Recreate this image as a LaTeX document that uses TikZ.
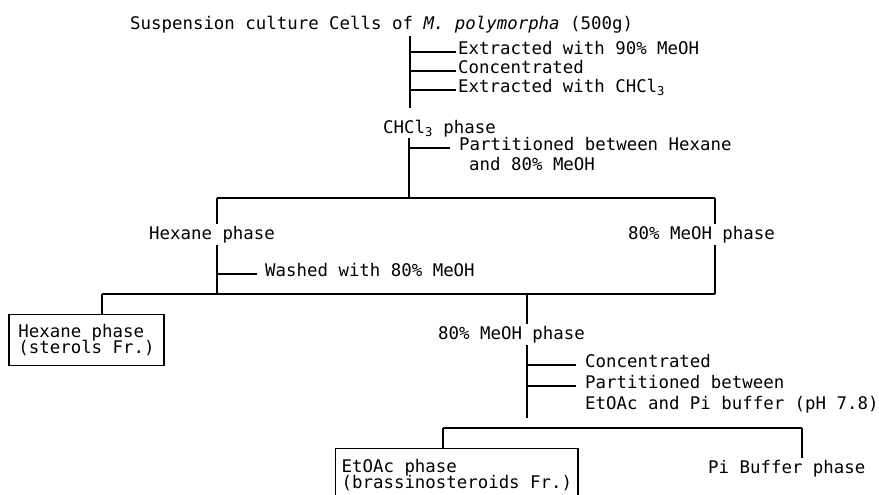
\documentclass[tikz,border=0pt]{standalone}
\usepackage{fontspec}
\setmonofont{DejaVu Sans Mono}
\usetikzlibrary{positioning}
\lineskiplimit=-20pt

\tikzset{
  txt/.style={font=\ttfamily\fontsize{17.4}{15.5}\selectfont, inner sep=2pt},
  ln/.style={line width=1.1pt},
  lnb/.style={line width=1.8pt},
  fr/.style={txt, draw, line width=1.3pt, align=left},
}

\begin{document}
\begin{tikzpicture}[x=1pt,y=-1pt]

    % Рамка рисунка
    \useasboundingbox (0,0) rectangle (879,495);
    \clip (0,0) rectangle (879,495);

    % Исходный материал и первые операции
    \node[txt, anchor=base west] (title) at (128,30) {Suspension culture Cells of \textit{M. polymorpha} (500g)};
    \coordinate (t1) at (410,108);
    \node[txt, anchor=mid west] (ext1)  at (456,52) {Extracted with 90\% MeOH};
    \node[txt, anchor=mid west] (conc1) at (456,71) {Concentrated};
    \node[txt, anchor=mid west] (ext2)  at (456,90) {Extracted with CHCl\textsubscript{3}};
    \draw[ln] (title.south -| t1) -- (t1);
    \draw[ln]  (ext1.mid west -| t1)  -- (ext1.mid west);
    \draw[ln]  (conc1.mid west -| t1) -- (conc1.mid west);
    \draw[lnb] (ext2.mid west -| t1)  -- (ext2.mid west);

    % Фаза CHCl3
    \node[txt, anchor=base west, inner sep=1pt] (chcl) at (382,133) {CHCl\textsubscript{3} phase};
    \coordinate (s1) at (409,198);
    \node[txt, anchor=mid west]  (part1)  at (457,148) {Partitioned between Hexane};
    \node[txt, anchor=base west] (part1b) at (467,170) {and 80\% MeOH};
    \draw[ln] (chcl.south -| s1) -- (s1);
    \draw[ln] (part1.mid west -| s1) -- ([xshift=-7pt]part1.mid west);

    % Разделение: гексан / 80% MeOH
    \coordinate (s1l) at (217,198);
    \coordinate (s1r) at (715,198);
    \coordinate (s2l) at (102,294);
    \coordinate (s2r) at (715,294);
    \draw[ln] (s1l) -- (s1r);
    \node[txt, anchor=base west] (hex)   at (147,239) {Hexane phase};
    \node[txt, anchor=base west] (meoh1) at (626,239) {80\% MeOH phase};
    \draw[ln] (s1l) -- (s1l |- hex.north);
    \draw[ln] (s1l |- hex.south) -- (s2l -| s1l);
    \draw[ln] (s1r) -- (s1r |- meoh1.north);
    \draw[ln] (s1r |- meoh1.south) -- (s2r);
    \node[txt, anchor=mid west] (wash) at (263,274) {Washed with 80\% MeOH};
    \draw[ln] (wash.mid west -| s1l) -- ([xshift=-6pt]wash.mid west);
    \draw[ln] (s2l) -- (s2r);

    % Гексановая фракция (стерины)
    \node[fr, minimum width=155, minimum height=51] (hexbox) at (86.5,340) {Hexane phase\\(sterols Fr.)};
    \draw[ln] (s2l) -- (s2l |- hexbox.north);

    % Объединённая фаза 80% MeOH
    \coordinate (t3) at (527,418);
    \node[txt, anchor=base west] (meoh2) at (436,339) {80\% MeOH phase};
    \draw[ln] (s2l -| t3) -- (t3 |- meoh2.north);
    \draw[ln] (t3 |- meoh2.south) -- (t3);
    \node[txt, anchor=mid west]  (conc2)  at (583,365) {Concentrated};
    \node[txt, anchor=mid west]  (part2)  at (583,386) {Partitioned between};
    \node[txt, anchor=base west] (part2b) at (583,409) {EtOAc and Pi buffer (pH 7.8)};
    \draw[ln]  (conc2.mid west -| t3) -- ([xshift=-7pt]conc2.mid west);
    \draw[lnb] (part2.mid west -| t3) -- ([xshift=-7pt]part2.mid west);

    % Разделение: EtOAc / фосфатный буфер
    \coordinate (s3l) at (443,428);
    \coordinate (s3r) at (802,428);
    \draw[ln] (s3l) -- (s3r);
    \node[fr, anchor=north west, inner xsep=6pt, inner ysep=11pt] (etoac) at (335,448) {EtOAc phase\\(brassinosteroids Fr.)};
    \node[txt, anchor=base west] (pibuf) at (706,473) {Pi Buffer phase};
    \draw[ln] (s3l) -- (s3l |- etoac.north);
    \draw[ln] (s3r) -- (s3r |- pibuf.north);

\end{tikzpicture}
\end{document}
